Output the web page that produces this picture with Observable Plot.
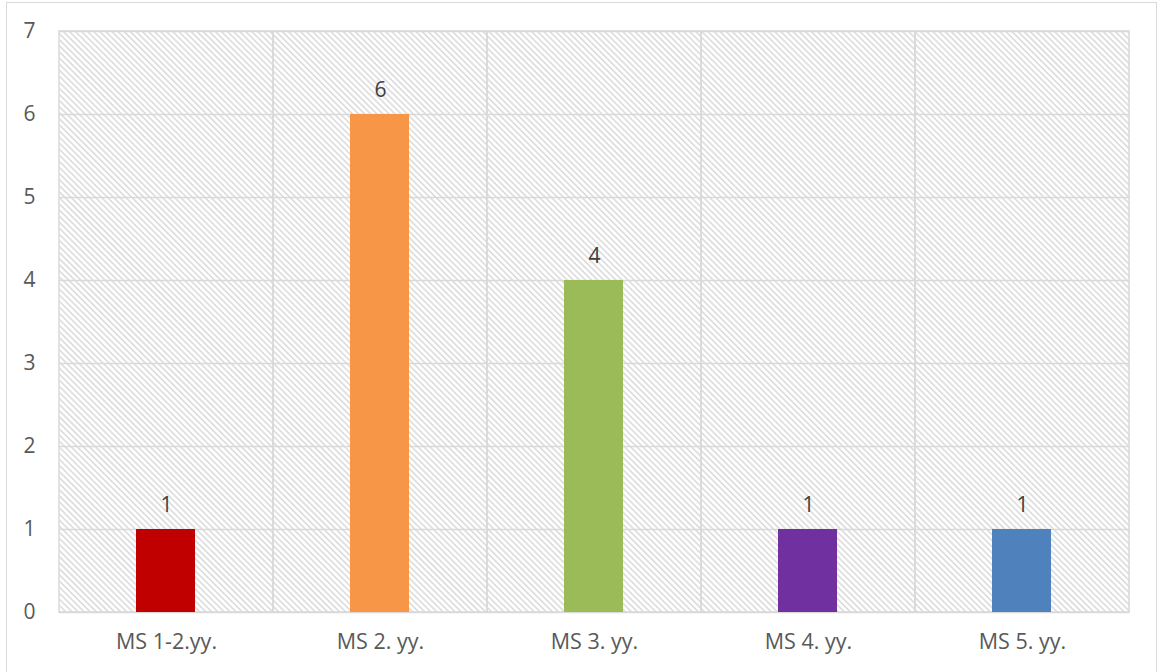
<!DOCTYPE html>
<html>
<head>
<meta charset="utf-8">
<script src="https://cdn.jsdelivr.net/npm/d3@7"></script>
<script src="https://cdn.jsdelivr.net/npm/@observablehq/plot@0.6"></script>
<style>
  html, body { margin: 0; padding: 0; background: #fff; }
  #wrap { position: relative; width: 1165px; height: 672px; overflow: hidden; }
  #border { position: absolute; left: 6px; top: 2px; width: 1151px; height: 680px; border: 1px solid #d9d9d9; box-sizing: border-box; pointer-events: none; }
</style>
</head>
<body>
<div id="wrap"><div id="border"></div></div>
<script>
const categories = ["MS 1-2.yy.", "MS 2. yy.", "MS 3. yy.", "MS 4. yy.", "MS 5. yy."];
const values = [1, 6, 4, 1, 1];
const colors = ["#C00000", "#F79646", "#9BBB59", "#7030A0", "#4F81BD"];
const yTicks = [0, 1, 2, 3, 4, 5, 6, 7];

const data = categories.map((c, i) => ({cat: c, value: values[i], color: colors[i]}));
const font = "'Open Sans', Lato, sans-serif";

const chart = Plot.plot({
  width: 1165,
  height: 672,
  marginLeft: 59,
  marginRight: 36,
  marginTop: 31,
  marginBottom: 60,
  style: {fontFamily: font, fontSize: "21px", color: "#595959", background: "transparent"},
  x: {domain: categories, padding: 0, label: null},
  y: {domain: [0, 7], label: null},
  marks: [
    Plot.frame({fill: "url(#hatch)", stroke: "none"}),
    Plot.gridY(yTicks, {stroke: "#d9d9d9", strokeOpacity: 1, strokeWidth: 1.5}),
    Plot.barY(data, {x: "cat", y1: 0, y2: 7, fill: "none", stroke: "#d9d9d9", strokeWidth: 1.5}),
    Plot.barY(data, {x: "cat", y: "value", fill: "color", insetLeft: 77, insetRight: 78}),
    Plot.text(data, {x: "cat", y: "value", text: d => String(d.value), dy: -24, fill: "#404040", fontSize: 21}),
    Plot.axisY(yTicks, {tickSize: 0, tickPadding: 24, fontSize: 21, fill: "#595959", label: null, tickFormat: d3.format("d")}),
    Plot.axisX({tickSize: 0, tickPadding: 21, fontSize: 21.5, fill: "#595959", label: null})
  ]
});

const svg = d3.select(chart);
const defs = svg.insert("defs", ":first-child");
const pat = defs.append("pattern")
  .attr("id", "hatch")
  .attr("patternUnits", "userSpaceOnUse")
  .attr("width", 4.3)
  .attr("height", 4.3)
  .attr("patternTransform", "rotate(-45)");
pat.append("rect").attr("width", 4.3).attr("height", 4.3).attr("fill", "#ffffff");
pat.append("line").attr("x1", 1).attr("y1", 0).attr("x2", 1).attr("y2", 4.3)
  .attr("stroke", "#d9d9d9").attr("stroke-width", 1.5);

document.getElementById("wrap").appendChild(chart);
</script>
</body>
</html>
